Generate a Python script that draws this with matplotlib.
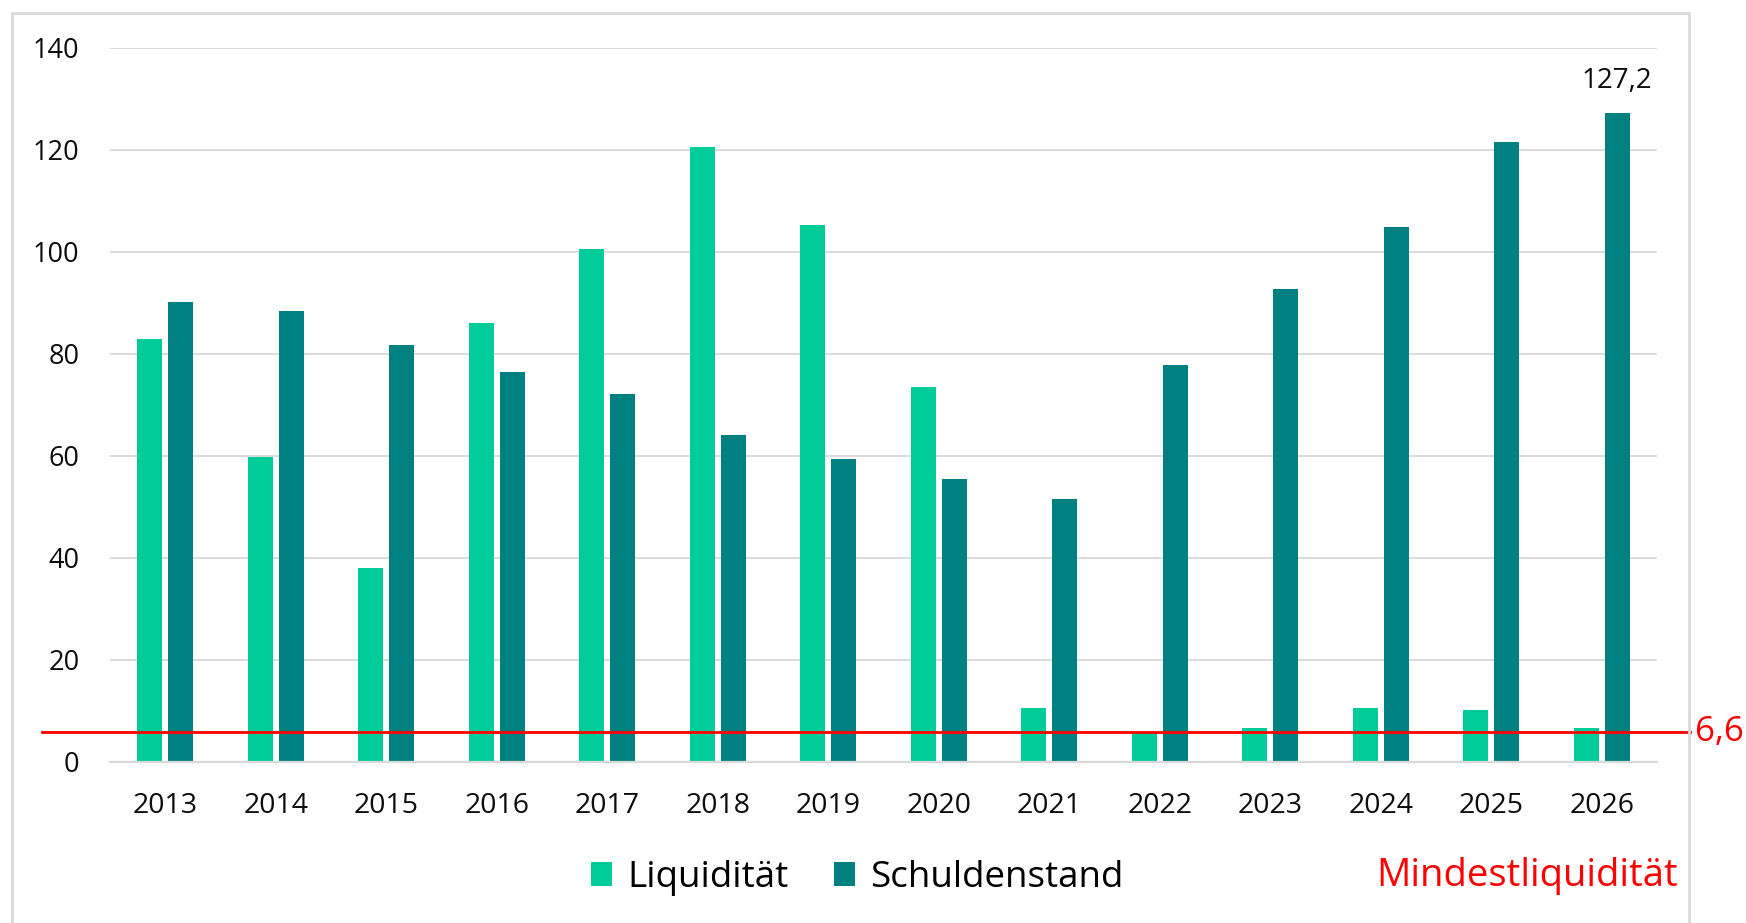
import numpy as np
import matplotlib
matplotlib.use("Agg")
import matplotlib.pyplot as plt
import matplotlib.transforms as mtransforms
from matplotlib.patches import Rectangle

plt.rcParams['font.family'] = ['Open Sans', 'DejaVu Sans']

# Daten
jahre = ['2013', '2014', '2015', '2016', '2017', '2018', '2019',
         '2020', '2021', '2022', '2023', '2024', '2025', '2026']
liquiditaet = [82.8, 59.8, 38.0, 86.0, 100.5, 120.5, 105.3,
               73.4, 10.5, 5.6, 6.6, 10.5, 10.2, 6.6]
schuldenstand = [90.2, 88.4, 81.7, 76.4, 72.1, 64.0, 59.4,
                 55.5, 51.5, 77.7, 92.8, 104.8, 121.6, 127.2]
mindestliquiditaet = 5.75
mindest_label = '6,6'
y_ticks = [0, 20, 40, 60, 80, 100, 120, 140]

C_LIQ = '#00CC99'
C_SCH = '#008080'
C_GRID = '#D9D9D9'
C_TXT = '#0d0d0d'

fig = plt.figure(figsize=(17.46, 9.23), dpi=100)
ax = fig.add_axes([0.063, 0.1749, 0.886, 0.7732])

x = np.arange(len(jahre))
w = 0.226
ax.bar(x - 0.14, liquiditaet, w, color=C_LIQ, label='Liquidität', zorder=2)
ax.bar(x + 0.14, schuldenstand, w, color=C_SCH, label='Schuldenstand', zorder=2)

# Datenbeschriftung letzter Balken
v = schuldenstand[-1]
ax.annotate(f"{v:.1f}".replace('.', ','), xy=(x[-1] + 0.14, v), xytext=(0, 18),
            textcoords='offset points', ha='center', va='baseline',
            fontsize=20, color=C_TXT)

ax.set_xlim(-0.5, len(jahre) - 0.5)
ax.set_ylim(0, 140)
ax.set_yticks(y_ticks)
ax.set_xticks(x)
ax.set_xticklabels(jahre)
ax.tick_params(axis='both', length=0, colors=C_TXT)
ax.tick_params(axis='y', pad=22, labelsize=19.5)
ax.tick_params(axis='x', pad=22, labelsize=20.5)
ax.grid(axis='y', color=C_GRID, linewidth=1.3, zorder=0)
ax.set_axisbelow(True)
for s in ['top', 'right', 'left']:
    ax.spines[s].set_visible(False)
ax.spines['bottom'].set_color(C_GRID)
ax.spines['bottom'].set_linewidth(1.6)

# Mindestliquiditaet Linie
trans = mtransforms.blended_transform_factory(ax.transAxes, ax.transData)
ax.plot([-0.044, 1.0213], [mindestliquiditaet, mindestliquiditaet], color='red',
        linewidth=2.0, transform=trans, clip_on=False, zorder=4)
ax.text(1.0246, mindestliquiditaet, mindest_label, transform=trans, color='red',
        fontsize=25, va='center', ha='left')

fig.legend(loc='center', bbox_to_anchor=(0.491, 0.049), ncol=2, frameon=False,
           fontsize=26.5, handlelength=0.56, handleheight=0.64, handletextpad=0.42,
           columnspacing=1.25)
fig.text(0.8745, 0.051, 'Mindestliquidität', color='red', fontsize=27.5,
         ha='center', va='center')

# Rahmen
fig.patches.append(Rectangle((12 / 1746, -0.1), (1689 - 12) / 1746, 1.1 - 13 / 923,
                             transform=fig.transFigure, fill=False,
                             edgecolor=C_GRID, linewidth=2.0))

fig.savefig('out.png', dpi=100)
